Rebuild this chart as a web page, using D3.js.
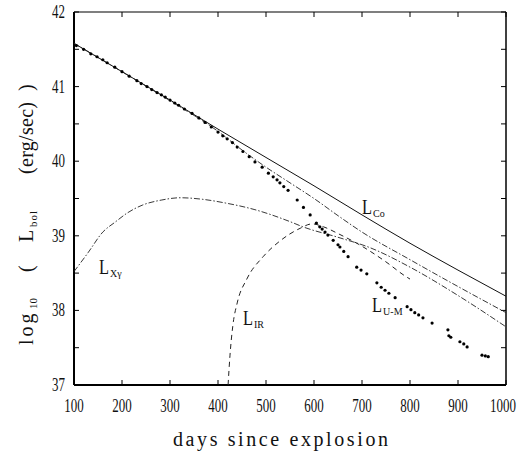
<!DOCTYPE html>
<html>
<head>
<meta charset="utf-8">
<script src="https://cdn.jsdelivr.net/npm/d3@7"></script>
<style>
  body { margin: 0; background: #fff; }
  svg text { fill: #111; }
</style>
</head>
<body>
<div class="vis-lightcurve"></div>
<script>
// Data
const xTicks = [100, 200, 300, 400, 500, 600, 700, 800, 900, 1000];
const yTicks = [37, 38, 39, 40, 41, 42];

// L_Co (solid)
const lCo = [[100,41.58],[200,41.2],[300,40.82],[400,40.43],[500,40.05],[600,39.67],[700,39.28],[800,38.9],[900,38.54],[1000,38.19]];
// model total (upper dash-dot)
const lTot = [[100,41.58],[200,41.2],[300,40.81],[400,40.4],[450,40.15],[500,39.92],[550,39.71],[600,39.5],[650,39.27],[700,39.05],[800,38.68],[900,38.32],[1000,37.97]];
// L_X-gamma (dash-dot)
const lXg = [[100,38.52],[130,38.78],[160,39.05],[185,39.18],[212,39.31],[242,39.41],[283,39.48],[321,39.51],[367,39.49],[415,39.44],[477,39.35],[550,39.19],[577,39.12],[650,38.98],[717,38.84],[800,38.58],[900,38.2],[1000,37.78]];
// L_IR (dashed)
const lIR = [[421,37.0],[425,37.4],[431,37.8],[440,38.1],[460,38.42],[494,38.72],[529,38.93],[571,39.1],[596,39.16],[620,39.12],[650,39.03],[700,38.86],[750,38.65],[790,38.46],[800,38.42]];
// L_U-M observed points
const lUM = [[105,41.55],[120,41.5],[135,41.44],[148,41.4],[160,41.36],[169,41.32],[185,41.26],[200,41.2],[215,41.14],[231,41.08],[240,41.04],[252,41.0],[262,40.96],[273,40.92],[282,40.89],[290,40.86],[300,40.82],[310,40.78],[318,40.75],[330,40.7],[346,40.64],[360,40.58],[373,40.52],[386,40.46],[400,40.39],[410,40.34],[419,40.3],[430,40.25],[440,40.19],[452,40.13],[465,40.06],[477,39.99],[492,39.92],[505,39.84],[515,39.79],[523,39.75],[529,39.71],[537,39.66],[546,39.61],[565,39.48],[578,39.38],[592,39.28],[605,39.17],[612,39.12],[617,39.09],[623,39.05],[629,39.01],[640,38.94],[650,38.88],[654,38.85],[662,38.79],[671,38.72],[689,38.58],[698,38.54],[710,38.49],[731,38.37],[740,38.31],[748,38.27],[756,38.23],[769,38.17],[794,38.05],[802,38.01],[810,37.97],[818,37.94],[827,37.9],[846,37.83],[879,37.74],[881,37.66],[885,37.64],[904,37.58],[912,37.55],[919,37.51],[950,37.4],[957,37.39],[963,37.38]];

const W = 519, H = 451;
const margin = {top: 12, right: 13, bottom: 66, left: 74};
const width = W - margin.left - margin.right;
const height = H - margin.top - margin.bottom;

let root = d3.select('.vis-lightcurve')
            .append("svg")
            .attr("width", W)
            .attr("height", H);
let svg = root.append("g")
            .attr("transform", "translate(" + margin.left + "," + margin.top + ")");

const x = d3.scaleLinear().domain([100, 1000]).range([0, width]);
const y = d3.scaleLinear().domain([37, 42]).range([height, 0]);

// frame
svg.append("line").attr("x1", 0).attr("x2", 0).attr("y1", 0).attr("y2", height).attr("stroke", "#000").attr("stroke-width", 2);
svg.append("line").attr("x1", 0).attr("x2", width).attr("y1", height).attr("y2", height).attr("stroke", "#000").attr("stroke-width", 2);
svg.append("line").attr("x1", 0).attr("x2", width).attr("y1", 0).attr("y2", 0).attr("stroke", "#000").attr("stroke-width", 1.2);
svg.append("line").attr("x1", width).attr("x2", width).attr("y1", 0).attr("y2", height).attr("stroke", "#000").attr("stroke-width", 1.5);

// inward ticks
const halfTicks = d3.range(37, 42.01, 0.5);
svg.selectAll(".ytl").data(halfTicks).enter().append("line")
    .attr("x1", 0).attr("x2", 5).attr("y1", d => y(d)).attr("y2", d => y(d))
    .attr("stroke", "#000").attr("stroke-width", 1);
svg.selectAll(".ytr").data(halfTicks).enter().append("line")
    .attr("x1", width - 5).attr("x2", width).attr("y1", d => y(d)).attr("y2", d => y(d))
    .attr("stroke", "#000").attr("stroke-width", 1);
svg.selectAll(".xtb").data(xTicks).enter().append("line")
    .attr("x1", d => x(d)).attr("x2", d => x(d)).attr("y1", height - 5).attr("y2", height)
    .attr("stroke", "#000").attr("stroke-width", 1);
svg.selectAll(".xtt").data(xTicks).enter().append("line")
    .attr("x1", d => x(d)).attr("x2", d => x(d)).attr("y1", 0).attr("y2", 5)
    .attr("stroke", "#000").attr("stroke-width", 1);

// tick labels: narrow serif digits, squeezed horizontally
const squeeze = 0.72;
const digitW = 9 * squeeze;
svg.selectAll(".xlab").data(xTicks).enter().append("text")
    .attr("transform", d => {
        let cx = Math.min(x(d), W - margin.left - 3 - String(d).length * digitW / 2);
        return `translate(${cx}, ${height + 27}) scale(${squeeze}, 1)`;
    })
    .attr("text-anchor", "middle")
    .attr("font-family", "Liberation Serif").attr("font-size", 18)
    .text(d => d);
svg.selectAll(".ylab").data(yTicks).enter().append("text")
    .attr("transform", d => `translate(-9, ${y(d) + 6}) scale(${squeeze}, 1)`)
    .attr("text-anchor", "end")
    .attr("font-family", "Liberation Serif").attr("font-size", 18)
    .text(d => d);

// x axis title, widely spaced like the original
root.append("text")
    .attr("x", 173).attr("y", 446)
    .attr("font-family", "Liberation Serif").attr("font-size", 20)
    .attr("textLength", 215)
    .attr("lengthAdjust", "spacing")
    .text("days since explosion");

// y axis title, laid out in pieces along the rotated baseline
let ylab = root.append("g").attr("transform", "translate(33,0) rotate(-90)");
const yPieces = [
    {t: "log", at: 345, fs: 20, ls: 3, sub: false},
    {t: "10", at: 309, fs: 11, ls: 0, sub: true},
    {t: "(", at: 272, fs: 20, ls: 0, sub: false},
    {t: "L", at: 242, fs: 20, ls: 0, sub: false},
    {t: "bol", at: 227, fs: 11, ls: 1, sub: true},
    {t: "(erg/sec)", at: 174, fs: 20, ls: 0.3, sub: false},
    {t: ")", at: 91, fs: 20, ls: 0, sub: false}
];
yPieces.forEach(p => {
    ylab.append("text")
        .attr("x", -p.at).attr("y", p.sub ? 4 : 0)
        .attr("font-family", "Liberation Serif").attr("font-size", p.fs)
        .attr("letter-spacing", p.ls)
        .text(p.t);
});

// curves
const line = d3.line().x(d => x(d[0])).y(d => y(d[1])).curve(d3.curveMonotoneX);

svg.append("path").datum(lCo).attr("d", line)
    .attr("fill", "none").attr("stroke", "#111").attr("stroke-width", 1);
svg.append("path").datum(lTot).attr("d", line)
    .attr("fill", "none").attr("stroke", "#222").attr("stroke-width", 0.9)
    .attr("stroke-dasharray", "6,2,1.5,2");
svg.append("path").datum(lXg).attr("d", line)
    .attr("fill", "none").attr("stroke", "#222").attr("stroke-width", 0.9)
    .attr("stroke-dasharray", "6,2,1.5,2");
svg.append("path").datum(lIR).attr("d", line)
    .attr("fill", "none").attr("stroke", "#222").attr("stroke-width", 1)
    .attr("stroke-dasharray", "5,4");

svg.selectAll(".um").data(lUM).enter().append("circle")
    .attr("cx", d => x(d[0])).attr("cy", d => y(d[1]))
    .attr("r", 1.6).attr("fill", "#000");

// curve labels: a big L and a small subscript
const labels = [
    {t: "L", s: "Co", d: 700, v: 39.29},
    {t: "L", s: "Xγ", d: 152, v: 38.49},
    {t: "L", s: "IR", d: 452, v: 37.8},
    {t: "L", s: "U-M", d: 721, v: 37.98}
];
labels.forEach(l => {
    svg.append("text")
        .attr("x", x(l.d)).attr("y", y(l.v))
        .attr("font-family", "Liberation Serif").attr("font-size", 20)
        .attr("textLength", 10).attr("lengthAdjust", "spacingAndGlyphs")
        .text(l.t);
    svg.append("text")
        .attr("x", x(l.d) + 11).attr("y", y(l.v) + 3)
        .attr("font-family", "Liberation Serif").attr("font-size", 10)
        .text(l.s);
});
</script>
</body>
</html>
